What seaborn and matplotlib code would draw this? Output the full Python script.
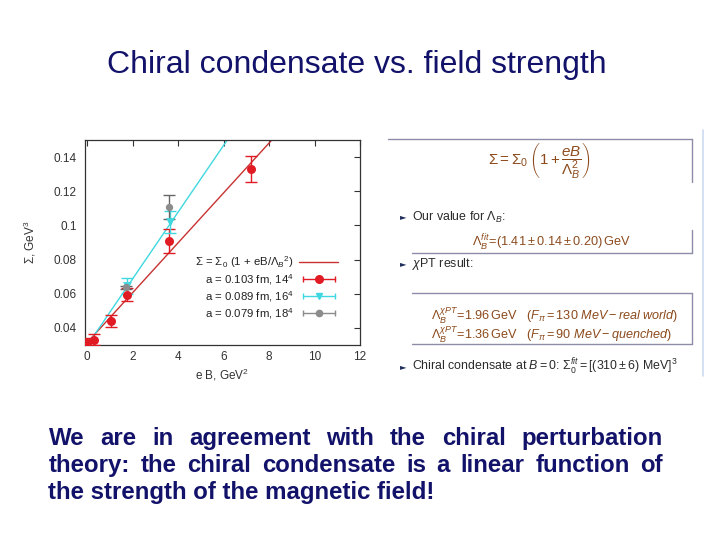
import matplotlib
matplotlib.use("Agg")
import numpy as np
import pandas as pd
import seaborn as sns
import matplotlib.pyplot as plt
from matplotlib.lines import Line2D
from matplotlib.legend_handler import HandlerLine2D, HandlerTuple

# ---------------- data ----------------
red_x = [0.0, 0.30, 1.03, 1.75, 3.60, 7.20]
red_y = [0.0310, 0.0332, 0.0442, 0.0595, 0.0907, 0.1330]
red_err = [0.0030, 0.0030, 0.0036, 0.0038, 0.0070, 0.0078]

cyan_x = [1.74, 3.64]
cyan_y = [0.0646, 0.1020]
cyan_err = [0.0045, 0.0065]

gray_x = [1.72, 3.60]
gray_y = [0.0638, 0.1107]
gray_err = [0.0010, 0.0070]

fit_red_x = [0.0, 8.12]
fit_red_y = [0.0315, 0.150]
fit_cyan_x = [0.19, 6.16]
fit_cyan_y = [0.0335, 0.150]

x_ticks = [0, 2, 4, 6, 8, 10, 12]
y_ticks = [0.04, 0.06, 0.08, 0.10, 0.12, 0.14]

legend_labels = [r"$\Sigma$ = $\Sigma_0$ (1 + eB/$\Lambda_B$$^2$)",
                 r"a = 0.103 fm, 14$^4$",
                 r"a = 0.089 fm, 16$^4$",
                 r"a = 0.079 fm, 18$^4$"]

title_text = "Chiral condensate vs. field strength"
body_lines = ["We are in agreement with the chiral perturbation",
              "theory:  the chiral condensate is a linear function of",
              "the strength of the magnetic field!"]

# ---------------- style ----------------
sns.set_theme(style="white")
plt.rcParams['font.family'] = ['Liberation Sans', 'DejaVu Sans']
plt.rcParams['mathtext.fontset'] = 'custom'
plt.rcParams['mathtext.rm'] = 'Liberation Sans'
plt.rcParams['mathtext.it'] = 'Liberation Sans:italic'
plt.rcParams['mathtext.bf'] = 'Liberation Sans:bold'

RED = "#e01b24"
RED_LINE = "#c83232"
CYAN = "#3fd8e0"
GRAY = "#8c8c8c"
NAVY = "#12126a"
BROWN = "#8c4a1c"
BOXC = "#8c8ca8"
TXT = "#2a2a2a"

fig = plt.figure(figsize=(7.2, 5.4), dpi=100)
fig.patch.set_facecolor("white")

# overlay axes in pixel coordinates for slide text
over = fig.add_axes([0, 0, 1, 1], zorder=0)
over.set_xlim(0, 720)
over.set_ylim(540, 0)
over.axis("off")
renderer = fig.canvas.get_renderer()


def fitted_size(ax, s, target, base=12, **kw):
    t = ax.text(0, 0, s, fontsize=base, **kw)
    w = t.get_window_extent(renderer).width
    t.remove()
    return base * target / w


# title
ts = fitted_size(over, title_text, 499, 20)
over.text(356.5, 73, title_text, fontsize=ts, color=NAVY, ha="center", va="baseline")

# justified bold body text
bs = fitted_size(over, body_lines[2], 387, 14, fontweight="bold")
left, right = 48.5, 663
baselines = [445, 472, 499]
for i, line in enumerate(body_lines):
    words = line.split()
    if i < len(body_lines) - 1:
        widths = []
        for w in words:
            t = over.text(0, 0, w, fontsize=bs, fontweight="bold")
            widths.append(t.get_window_extent(renderer).width)
            t.remove()
        gap = (right - left - sum(widths)) / (len(words) - 1)
        x = left
        for w, wd in zip(words, widths):
            over.text(x, baselines[i], w, fontsize=bs, fontweight="bold",
                      color=NAVY, ha="left", va="baseline")
            x += wd + gap
    else:
        over.text(left, baselines[i], line, fontsize=bs, fontweight="bold",
                  color=NAVY, ha="left", va="baseline")

# ---------------- plot ----------------
ax = fig.add_axes([85 / 720, 1 - 345 / 540, 275 / 720, 205 / 540], zorder=2)

df_fit_red = pd.DataFrame({"x": fit_red_x, "y": fit_red_y})
df_fit_cyan = pd.DataFrame({"x": fit_cyan_x, "y": fit_cyan_y})
sns.lineplot(data=df_fit_red, x="x", y="y", ax=ax, color=RED_LINE, lw=1.0, zorder=2)
sns.lineplot(data=df_fit_cyan, x="x", y="y", ax=ax, color=CYAN, lw=1.0, zorder=2)

ax.errorbar(red_x, red_y, yerr=red_err, fmt="none", ecolor=RED, elinewidth=1.0,
            capsize=4.5, capthick=1.0, zorder=3)
ax.errorbar(cyan_x, cyan_y, yerr=cyan_err, fmt="none", ecolor=CYAN, elinewidth=1.0,
            capsize=4.5, capthick=1.0, zorder=3)
ax.errorbar(gray_x, gray_y, yerr=gray_err, fmt="none", ecolor="#666666", elinewidth=1.0,
            capsize=4.5, capthick=1.0, zorder=3)

sns.scatterplot(x=red_x, y=red_y, ax=ax, color=RED, marker="o", s=42, edgecolor=RED,
                linewidth=0, zorder=4)
sns.scatterplot(x=cyan_x, y=cyan_y, ax=ax, color=CYAN, marker="v", s=40, edgecolor=CYAN,
                linewidth=0, zorder=4)
sns.scatterplot(x=gray_x, y=gray_y, ax=ax, color=GRAY, marker="o", s=28, edgecolor=GRAY,
                linewidth=0, zorder=5)

ax.set_xlim(-0.1, 12)
ax.set_ylim(0.03, 0.15)
ax.set_xticks(x_ticks)
ax.set_yticks(y_ticks)
ax.set_xticklabels([f"{v:g}" for v in x_ticks])
ax.set_yticklabels([f"{v:g}" for v in y_ticks])
ax.tick_params(direction="in", length=4, width=0.8, top=True, right=True,
               labelsize=8.5, colors="#333333", pad=4)
ax.tick_params(axis="y", pad=6)
for sp in ax.spines.values():
    sp.set_color("#333333")
    sp.set_linewidth(0.9)
ax.set_xlabel("e B, GeV$^2$", fontsize=8.5, color="#333333", labelpad=3)
ax.set_ylabel(r"$\Sigma$, GeV$^3$", fontsize=8.5, color="#333333", labelpad=11)
ax.set_facecolor("white")

# legend with gnuplot-like handles (horizontal error bars with caps)
h_fit = Line2D([], [], color=RED_LINE, lw=1.0)
handles = [h_fit]
hmap = {}
for col, mk, ms in [(RED, "o", 5.5), (CYAN, "v", 5), (GRAY, "o", 4.5)]:
    caps = Line2D([], [], color=col, lw=1.0, marker="|", markersize=5, markeredgewidth=1.0)
    mark = Line2D([], [], color=col, lw=0, marker=mk, markersize=ms)
    hmap[caps] = HandlerLine2D(numpoints=2)
    hmap[mark] = HandlerLine2D(numpoints=1)
    handles.append((caps, mark))
hmap[tuple] = HandlerTuple(ndivide=1, pad=0)
leg = ax.legend(handles, legend_labels, loc="upper right", bbox_to_anchor=(0.92, 0.445),
                frameon=False, fontsize=8.2, markerfirst=False, handlelength=3.4,
                handletextpad=0.5, labelspacing=0.2, borderpad=0, borderaxespad=0,
                handler_map=hmap)
for t in leg.get_texts():
    t.set_color("#222222")

# ---------------- right panel (beamer excerpt) ----------------
rp = fig.add_axes([385 / 720, 1 - 380 / 540, 325 / 720, 252 / 540], zorder=1)
rp.set_xlim(385, 710)
rp.set_ylim(380, 128)
rp.axis("off")

rp.plot([703, 703], [130, 376], color="#cddcf0", lw=1.2)
# box 1
rp.plot([388, 692], [138.5, 138.5], color=BOXC, lw=1.0)
rp.plot([692, 692], [138.5, 182], color=BOXC, lw=1.0)
# box 2
rp.plot([692, 692], [230, 253], color=BOXC, lw=1.0)
rp.plot([412, 692], [253, 253], color=BOXC, lw=1.0)
# box 3
rp.plot([412, 692], [293, 293], color=BOXC, lw=1.0)
rp.plot([692, 692], [293, 344], color=BOXC, lw=1.0)
rp.plot([412, 692], [344, 344], color=BOXC, lw=1.0)

f1 = r"$\Sigma = \Sigma_0\,\left(1+\dfrac{eB}{\Lambda_B^2}\right)$"
s1 = fitted_size(rp, f1, 104, 9)
rp.text(539, 161, f1, fontsize=s1, color=BROWN, ha="center", va="center")

f2 = r"$\Lambda_B^{fit}\!=\!(1.41\pm0.14\pm0.20)\,\mathrm{GeV}$"
s2 = fitted_size(rp, f2, 160, 8)
rp.text(551, 243, f2, fontsize=s2, color=BROWN, ha="center", va="center")

f3a = r"$\Lambda_B^{\chi PT}\!=\!1.96\,\mathrm{GeV}\quad(F_\pi=130\ MeV-real\ world)$"
f3b = r"$\Lambda_B^{\chi PT}\!=\!1.36\,\mathrm{GeV}\quad(F_\pi=90\ MeV-quenched)$"
s3 = fitted_size(rp, f3a, 248, 8)
rp.text(555, 315.5, f3a, fontsize=s3, color=BROWN, ha="center", va="center")
rp.text(551, 334.5, f3b, fontsize=s3, color=BROWN, ha="center", va="center")

b3 = r"Chiral condensate at $B = 0$: $\Sigma_0^{fit} = [(310 \pm 6)$ MeV]$^3$"
bul_size = fitted_size(rp, b3, 266, 8)
for yb, txt in [(217, r"Our value for $\Lambda_B$:"),
                (264, r"$\chi$PT result:"),
                (367, b3)]:
    rp.text(400, yb, "\u25BA", fontsize=6, color="#1f2d5a", ha="left", va="center",
            family=["DejaVu Sans"])
    rp.text(412, yb, txt, fontsize=bul_size, color=TXT, ha="left", va="center")

fig.savefig("out.png", dpi=100, facecolor="white")
